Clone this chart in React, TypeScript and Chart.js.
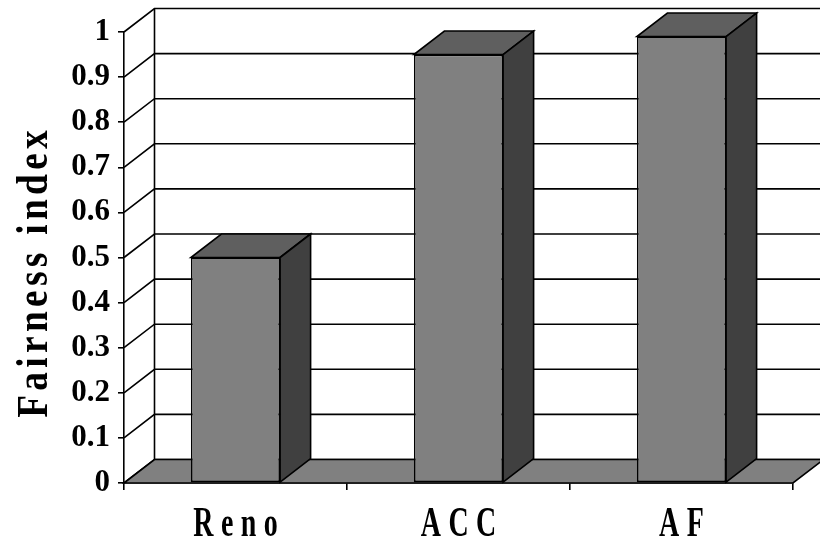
import React, { useEffect, useRef } from 'react';
import { Chart, registerables } from 'chart.js';

Chart.register(...registerables);

const categories = ['Reno', 'ACC', 'AF'];
const fairness = [0.5, 0.95, 0.99];
const yTickLabels = ['0', '0.1', '0.2', '0.3', '0.4', '0.5', '0.6', '0.7', '0.8', '0.9', '1'];
const yTitle = 'Fairness index';

const DX = 30.5;
const DY = -23.5;
const FRONT = '#808080';
const TOP = '#5f5f5f';
const SIDE = '#404040';
const FLOOR = '#808080';
const SERIF = '"Liberation Serif", "Times New Roman", serif';

function drawSpaced(ctx: CanvasRenderingContext2D, text: string, cx: number, baseline: number, scaleX: number, spacing: number) {
  const chars = [...text];
  const widths = chars.map((ch) => ctx.measureText(ch).width * scaleX);
  const total = widths.reduce((a, b) => a + b, 0) + spacing * (chars.length - 1);
  let xx = cx - total / 2;
  chars.forEach((ch, i) => {
    ctx.save();
    ctx.translate(xx, baseline);
    ctx.scale(scaleX, 1);
    ctx.fillText(ch, 0, 0);
    ctx.restore();
    xx += widths[i] + spacing;
  });
}

const box3d = {
  id: 'box3d',
  beforeDatasetsDraw(chart: any) {
    const { ctx, chartArea, scales } = chart;
    const { left, right, bottom } = chartArea;
    const y = scales.y;
    ctx.save();
    ctx.strokeStyle = '#000';
    ctx.lineWidth = 1.6;
    y.ticks.forEach((t: any) => {
      const py = y.getPixelForValue(t.value);
      ctx.beginPath();
      ctx.moveTo(left, py);
      ctx.lineTo(left + DX, py + DY);
      ctx.lineTo(right + DX, py + DY);
      ctx.stroke();
    });
    const yMaxPx = y.getPixelForValue(y.max);
    ctx.beginPath();
    ctx.moveTo(left + DX, yMaxPx + DY);
    ctx.lineTo(left + DX, bottom + DY);
    ctx.stroke();
    ctx.beginPath();
    ctx.moveTo(left, bottom);
    ctx.lineTo(right, bottom);
    ctx.lineTo(right + DX, bottom + DY);
    ctx.lineTo(left + DX, bottom + DY);
    ctx.closePath();
    ctx.fillStyle = FLOOR;
    ctx.fill();
    ctx.stroke();
    ctx.restore();
  },
  afterDatasetsDraw(chart: any) {
    const { ctx } = chart;
    const meta = chart.getDatasetMeta(0);
    ctx.save();
    ctx.strokeStyle = '#000';
    ctx.lineWidth = 1.6;
    ctx.lineJoin = 'miter';
    meta.data.forEach((bar: any) => {
      const { x, y, base, width } = bar.getProps(['x', 'y', 'base', 'width'], true);
      const x0 = x - width / 2;
      const x1 = x + width / 2;
      ctx.beginPath();
      ctx.moveTo(x0, y);
      ctx.lineTo(x1, y);
      ctx.lineTo(x1 + DX, y + DY);
      ctx.lineTo(x0 + DX, y + DY);
      ctx.closePath();
      ctx.fillStyle = TOP;
      ctx.fill();
      ctx.stroke();
      ctx.beginPath();
      ctx.moveTo(x1, y);
      ctx.lineTo(x1 + DX, y + DY);
      ctx.lineTo(x1 + DX, base + DY);
      ctx.lineTo(x1, base);
      ctx.closePath();
      ctx.fillStyle = SIDE;
      ctx.fill();
      ctx.stroke();
    });
    ctx.restore();
  },
  afterDraw(chart: any) {
    const { ctx, scales } = chart;
    const x = scales.x;
    ctx.save();
    ctx.fillStyle = '#000';
    ctx.textBaseline = 'alphabetic';
    ctx.textAlign = 'left';
    ctx.font = `bold 43px ${SERIF}`;
    categories.forEach((lab, i) => {
      drawSpaced(ctx, lab, x.getPixelForValue(i), 536, 0.65, 7.5);
    });
    ctx.font = `bold 44px ${SERIF}`;
    ctx.translate(47, 274);
    ctx.rotate(-Math.PI / 2);
    drawSpaced(ctx, yTitle, 0, 0, 0.85, 4.3);
    ctx.restore();
  },
};

export default function App() {
  const ref = useRef<HTMLCanvasElement | null>(null);
  useEffect(() => {
    if (!ref.current) return;
    const chart = new Chart(ref.current, {
      type: 'bar',
      data: {
        labels: categories,
        datasets: [
          {
            data: fairness,
            backgroundColor: FRONT,
            borderColor: '#000',
            borderWidth: 1.6,
            borderSkipped: false,
            categoryPercentage: 1,
            barPercentage: 0.4,
          },
        ],
      },
      options: {
        responsive: false,
        animation: false,
        devicePixelRatio: 1,
        layout: { padding: { left: 0, right: 27, top: 32, bottom: 0 } },
        plugins: { legend: { display: false }, tooltip: { enabled: false }, title: { display: false } },
        scales: {
          x: {
            type: 'category',
            offset: true,
            grid: { offset: true, drawOnChartArea: false, drawTicks: true, tickLength: 7, color: '#000', lineWidth: 1.6 },
            border: { display: true, color: '#000', width: 1.6 },
            ticks: { display: false },
            afterFit: (s: any) => {
              s.height = 56;
            },
          },
          y: {
            min: 0,
            max: 1,
            ticks: {
              stepSize: 0.1,
              color: '#000',
              padding: 8,
              font: { family: SERIF, size: 31, weight: 'bold' },
              callback: (_v: any, i: number) => yTickLabels[i],
            },
            grid: { drawOnChartArea: false, drawTicks: true, tickLength: 6, color: '#000', lineWidth: 1.6 },
            border: { display: true, color: '#000', width: 1.6 },
            afterFit: (s: any) => {
              s.width = 124;
            },
          },
        },
      },
      plugins: [box3d],
    } as any);
    return () => chart.destroy();
  }, []);
  return (
    <div style={{ position: 'fixed', left: 0, top: 0, width: 820, height: 539, background: '#fff' }}>
      <canvas ref={ref} width={820} height={539} />
    </div>
  );
}
